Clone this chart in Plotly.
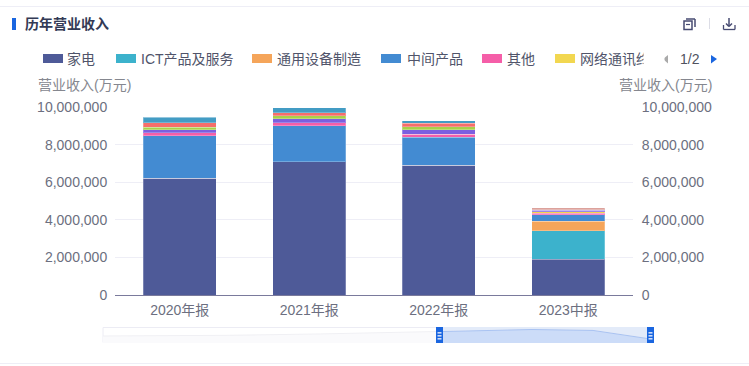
import plotly.graph_objects as go

W, H = 749, 366

categories = ["2020年报", "2021年报", "2022年报", "2023中报"]
home = [6200000, 7100000, 6890000, 1900000]
ict = [0, 0, 0, 1520000]
general_equipment = [0, 0, 0, 500000]
intermediate = [2280000, 1890000, 1490000, 340000]
other = [140000, 180000, 160000, 100000]
network = [0, 0, 0, 70000]
purple_series = [170000, 200000, 240000, 70000]
green_series = [140000, 160000, 160000, 15000]
coral_series = [230000, 160000, 190000, 15000]
teal_series = [290000, 280000, 130000, 15000]
salmon_series = [0, 0, 0, 100000]

y_ticks = [0, 2000000, 4000000, 6000000, 8000000, 10000000]

slider_positions = [0.0, 0.23, 0.395, 0.618, 0.78, 0.891, 0.995]
slider_totals = [5200000, 5700000, 6700000, 8500000, 10000000, 9300000, 3000000]
slider_selected_from = 0.618

series = [
    ("家电", home, "#4e5a98"),
    ("ICT产品及服务", ict, "#3cb2cc"),
    ("通用设备制造", general_equipment, "#f5a55a"),
    ("中间产品", intermediate, "#438bd2"),
    ("其他", other, "#f55ea8"),
    ("网络通讯终端", network, "#f2d750"),
    ("系列7", purple_series, "#7b5fe0"),
    ("系列8", green_series, "#a8d04a"),
    ("系列9", coral_series, "#f56e6a"),
    ("系列10", teal_series, "#439cc4"),
    ("系列11", salmon_series, "#dca29c"),
]

legend_items = [
    ("家电", "#4e5a98", 43, 65),
    ("ICT产品及服务", "#3cb2cc", 116, 139),
    ("通用设备制造", "#f5a55a", 252, 275),
    ("中间产品", "#438bd2", 381, 405),
    ("其他", "#f55ea8", 482, 505),
    ("网络通讯终端", "#f2d750", 555, 578),
]

FONT = "Liberation Sans, Noto Sans CJK SC, sans-serif"
TICK = "#6c6f80"
LINE = "#eeeef6"
BLUE = "#1a66e0"
ICON = "#474b72"


def px(x):
    return x / W


def py(y):
    return 1 - y / H


fig = go.Figure()
for name, values, color in series:
    fig.add_trace(go.Bar(
        x=categories, y=values, name=name, xaxis="x", yaxis="y",
        marker=dict(color=color, line=dict(color="rgba(255,255,255,0.25)", width=1)),
        showlegend=False,
    ))

totals = [sum(s[1][i] for s in series) for i in range(len(categories))]
fig.add_trace(go.Scatter(x=categories, y=totals, xaxis="x", yaxis="y3", mode="lines",
                         line=dict(width=0), opacity=0, showlegend=False, hoverinfo="skip"))

# data-zoom overview
fig.add_trace(go.Scatter(
    x=slider_positions, y=slider_totals, xaxis="x2", yaxis="y2", mode="lines",
    line=dict(color="#f0f0f4", width=1), fill="tozeroy", fillcolor="#fafafc",
    showlegend=False, hoverinfo="skip"))
sel = [i for i, p in enumerate(slider_positions) if p >= slider_selected_from]
fig.add_trace(go.Scatter(
    x=[slider_positions[i] for i in sel], y=[slider_totals[i] for i in sel],
    xaxis="x2", yaxis="y2", mode="lines",
    line=dict(color="#a9c3f2", width=1), fill="tozeroy", fillcolor="#ccdcf8",
    showlegend=False, hoverinfo="skip"))

shapes = []


def rect(x0, y0, x1, y1, fill, line=None, layer="above", lw=1):
    shapes.append(dict(type="rect", xref="paper", yref="paper",
                       x0=px(x0), x1=px(x1), y0=py(y0), y1=py(y1),
                       fillcolor=fill, layer=layer,
                       line=dict(color=line or "rgba(0,0,0,0)", width=lw if line else 0)))


def seg(x0, y0, x1, y1, color, width=1):
    shapes.append(dict(type="line", xref="paper", yref="paper",
                       x0=px(x0), x1=px(x1), y0=py(y0), y1=py(y1),
                       line=dict(color=color, width=width)))


def tri(points, fill):
    d = "M" + " L".join(f"{px(a):.5f},{py(b):.5f}" for a, b in points) + " Z"
    shapes.append(dict(type="path", xref="paper", yref="paper", path=d,
                       fillcolor=fill, line=dict(width=0)))


seg(0, 6.5, W, 6.5, LINE)
seg(0, 363.5, W, 363.5, LINE)
rect(12, 18, 16, 30, BLUE)

# copy icon
rect(684, 21, 692, 29.5, "rgba(0,0,0,0)", ICON, lw=1.5)
seg(686, 19, 695, 19, ICON, 1.5)
seg(695, 19, 695, 27, ICON, 1.5)
seg(686, 24.5, 690, 24.5, ICON, 1.2)
# separator
seg(709.5, 18, 709.5, 29, "#dcdde6")
# download icon
seg(729, 18, 729, 26, ICON, 1.5)
seg(726, 23.5, 729, 26.5, ICON, 1.5)
seg(732, 23.5, 729, 26.5, ICON, 1.5)
seg(723.5, 25, 723.5, 29.5, ICON, 1.3)
seg(723.5, 29.5, 735, 29.5, ICON, 1.3)
seg(735, 25, 735, 29.5, ICON, 1.3)

for _, color, sx, _tx in legend_items:
    rect(sx, 54, sx + 20, 63, color)

tri([(668, 55), (668, 63.5), (663, 59)], "#aaaaaa")
tri([(711, 55), (711, 63.5), (717, 59)], BLUE)

# overview frame, window and handles
shapes.append(dict(type="rect", xref="paper", yref="paper", x0=px(103), x1=px(652),
                   y0=py(342.5), y1=py(327.5), line=dict(color="#ececf4", width=1),
                   fillcolor="rgba(0,0,0,0)", layer="below"))
rect(443, 327, 648, 342.5, "#e3ebf9", layer="below")
for hx in (436, 647):
    rect(hx, 327, hx + 7, 343, BLUE)
    for hy in (332, 335, 338):
        rect(hx + 1.5, hy, hx + 5.5, hy + 1.6, "#cfdcf8")

annotations = [
    dict(text="<b>历年营业收入</b>", x=px(22.5), y=py(24), xanchor="left", yanchor="middle",
         font=dict(size=14, color="#333a55")),
    dict(text="营业收入(万元)", x=px(84), y=py(85), xanchor="center", yanchor="middle",
         font=dict(size=14, color="#85878f")),
    dict(text="营业收入(万元)", x=px(665), y=py(85), xanchor="center", yanchor="middle",
         font=dict(size=14, color="#85878f")),
    dict(text="1/2", x=px(690), y=py(59), xanchor="center", yanchor="middle",
         font=dict(size=14, color="#50535f")),
]
for label, _c, _sx, tx in legend_items:
    annotations.append(dict(text=label, x=px(tx), y=py(58.5), xanchor="left", yanchor="middle",
                            font=dict(size=14, color="#50546a")))
# the last legend label is cut off by the pager in the reference
annotations.append(dict(text=" ", x=px(643), y=py(58.5), xanchor="left", yanchor="middle",
                        width=18, height=20, bgcolor="#ffffff", showarrow=False,
                        font=dict(size=14)))
for a in annotations:
    a.update(xref="paper", yref="paper", showarrow=False)

fig.update_layout(
    width=W, height=H, autosize=False,
    margin=dict(l=0, r=0, t=0, b=0, pad=0, autoexpand=False),
    paper_bgcolor="#ffffff", plot_bgcolor="#ffffff",
    font=dict(family=FONT, size=14, color=TICK),
    barmode="stack", bargap=0.44, showlegend=False,
    shapes=shapes, annotations=annotations,
    xaxis=dict(domain=[px(115), px(633)], anchor="y", type="category",
               showline=True, linecolor="#7a7a9c", linewidth=1, showgrid=False,
               ticks="outside", ticklen=2, tickcolor="rgba(0,0,0,0)",
               tickfont=dict(size=14, color=TICK), fixedrange=True),
    yaxis=dict(domain=[py(295), py(107)], anchor="x", range=[0, 10000000],
               tickvals=y_ticks, tickformat=",d", showgrid=True, gridcolor=LINE, gridwidth=1,
               zeroline=False, showline=False, ticks="outside", ticklen=4,
               tickcolor="rgba(0,0,0,0)", tickfont=dict(size=14, color=TICK), fixedrange=True),
    yaxis3=dict(domain=[py(295), py(107)], anchor="x", overlaying="y", side="right",
                range=[0, 10000000], tickvals=y_ticks, tickformat=",d", showgrid=False,
                zeroline=False, showline=False, ticks="outside", ticklen=5,
                tickcolor="rgba(0,0,0,0)", tickfont=dict(size=14, color=TICK), fixedrange=True),
    xaxis2=dict(domain=[px(103), px(653)], anchor="y2", range=[0, 1], visible=False, fixedrange=True),
    yaxis2=dict(domain=[py(343), py(327)], anchor="x2", range=[0, 11850000], visible=False, fixedrange=True),
)

fig.write_html("out.html", config=dict(displayModeBar=False),
               post_script="document.body.style.margin='0';document.body.style.overflow='hidden';")
